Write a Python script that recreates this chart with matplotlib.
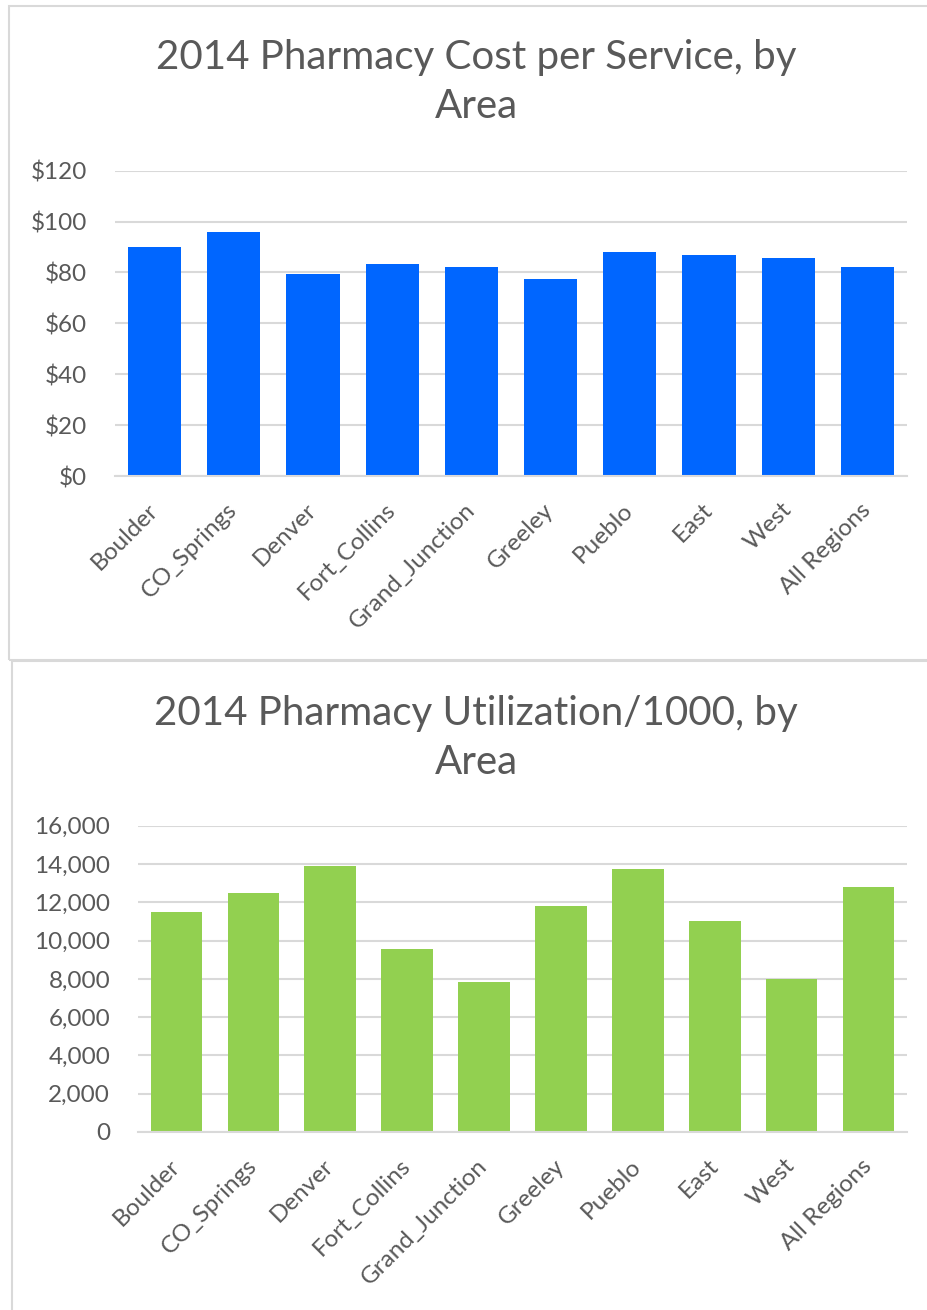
import matplotlib
matplotlib.use("Agg")
import matplotlib.pyplot as plt
from matplotlib.patches import Rectangle
from matplotlib.ticker import FuncFormatter

plt.rcParams['font.family'] = ['Lato', 'DejaVu Sans']

areas = ["Boulder", "CO_Springs", "Denver", "Fort_Collins", "Grand_Junction",
         "Greeley", "Pueblo", "East", "West", "All Regions"]
cost_per_service = [90.1, 96.0, 79.3, 83.3, 82.2, 77.6, 87.9, 86.7, 85.6, 82.2]
util_per_1000 = [11480, 12470, 13900, 9570, 7850, 11790, 13740, 11020, 8010, 12820]

title1 = "2014 Pharmacy Cost per Service, by\nArea"
title2 = "2014 Pharmacy Utilization/1000, by\nArea"

W, H = 928, 1310
fig = plt.figure(figsize=(W / 100, H / 100), dpi=100)
fig.patch.set_facecolor("white")

text_col = "#595959"
grid_col = "#d9d9d9"

# panel borders
fig.patches.append(Rectangle((9 / W, 1 - 660 / H), 1.2, (660 - 6) / H, transform=fig.transFigure,
                             fill=False, edgecolor=grid_col, linewidth=1.5))
fig.patches.append(Rectangle((12 / W, -0.1), 1.2, 0.1 + (H - 661) / H, transform=fig.transFigure,
                             fill=False, edgecolor=grid_col, linewidth=1.5))


def make(ax_rect, values, color, ymax, step, fmt, title, title_y):
    ax = fig.add_axes(ax_rect)
    x = range(len(areas))
    ax.bar(x, values, width=0.67, color=color, zorder=3)
    ax.set_xlim(-0.5, len(areas) - 0.5)
    ax.set_ylim(0, ymax)
    ax.set_yticks(range(0, ymax + 1, step))
    ax.yaxis.set_major_formatter(FuncFormatter(fmt))
    ax.grid(axis="y", color=grid_col, linewidth=1.5, zorder=0)
    for s in ["top", "right", "left"]:
        ax.spines[s].set_visible(False)
    ax.spines["bottom"].set_color(grid_col)
    ax.spines["bottom"].set_linewidth(1.5)
    ax.spines["bottom"].set_zorder(4)
    ax.tick_params(axis="both", length=0, colors=text_col, labelsize=17.5)
    ax.tick_params(axis="y", pad=20)
    ax.set_xticks(list(x))
    ax.set_xticklabels(areas, rotation=45, ha="right", va="center", rotation_mode="anchor",
                       fontsize=17.5, color=text_col)
    ax.tick_params(axis="x", pad=22)
    fig.text(476 / W, 1 - title_y / H, title, ha="center", va="center", fontsize=29,
             color=text_col, linespacing=1.4)
    return ax


make([115 / W, 834 / H, (907 - 115) / W, (476 - 170.7) / H], cost_per_service, "#0066ff",
     120, 20, lambda v, p: f"${int(v)}", title1, 82)
make([138 / W, 178 / H, (907 - 138) / W, (1132 - 825.7) / H], util_per_1000, "#92d050",
     16000, 2000, lambda v, p: f"{int(v):,}", title2, 738)

fig.savefig("out.png", dpi=100, facecolor="white")
